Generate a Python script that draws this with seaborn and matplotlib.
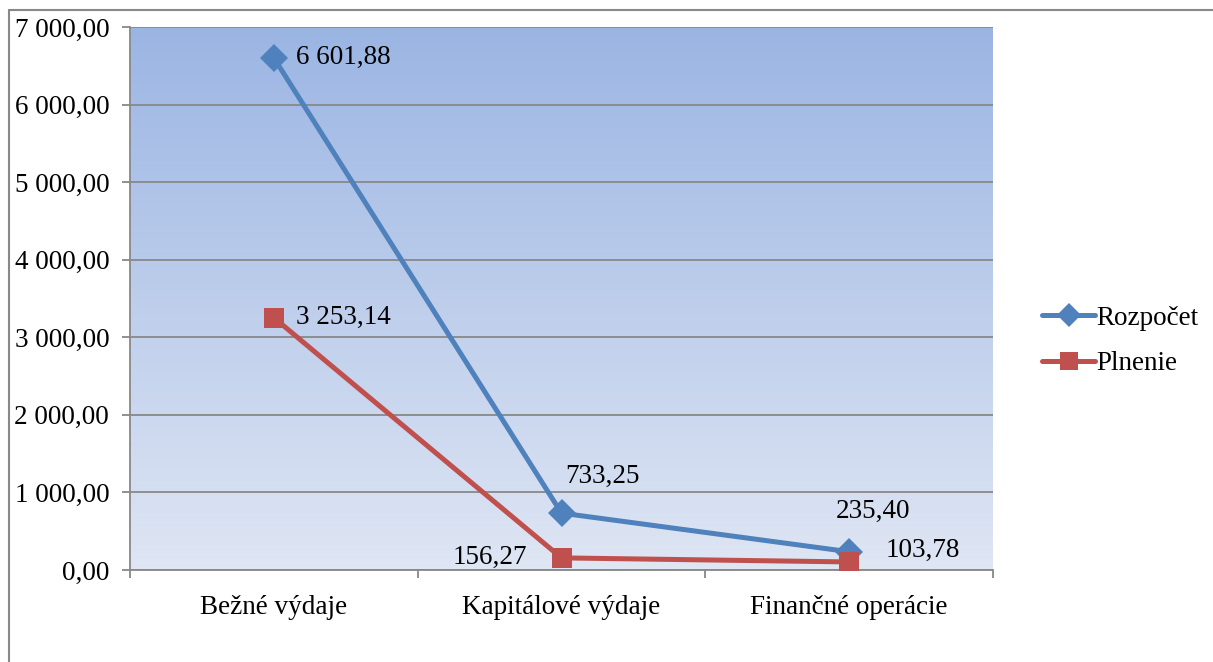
import numpy as np
import pandas as pd
import seaborn as sns
import matplotlib.pyplot as plt
from matplotlib.lines import Line2D
from matplotlib.ticker import FuncFormatter

# Data
categories = ['Bežné výdaje', 'Kapitálové výdaje', 'Finančné operácie']
rozpocet = [6601.88, 733.25, 235.40]
plnenie = [3253.14, 156.27, 103.78]
series_names = ['Rozpočet', 'Plnenie']
y_ticks = [0, 1000, 2000, 3000, 4000, 5000, 6000, 7000]

df = pd.DataFrame({
    'kategoria': categories * 2,
    'hodnota': rozpocet + plnenie,
    'seria': [series_names[0]] * 3 + [series_names[1]] * 3,
})
df['x'] = df['kategoria'].map({c: i for i, c in enumerate(categories)})

def sk_fmt(v, pos=None):
    s = f'{v:,.2f}'
    return s.replace(',', ' ').replace('.', ',')

sns.set_theme(style='white')
plt.rcParams['font.family'] = ['Liberation Serif', 'DejaVu Serif']
plt.rcParams['text.color'] = 'black'
FS = 19.5

fig = plt.figure(figsize=(12.13, 6.62), dpi=100)
ax = fig.add_axes([130 / 1213, 92 / 662, 863 / 1213, 543 / 662])

# gradient background of the plot area
grad = np.linspace(0, 1, 256).reshape(-1, 1)
top = np.array([0x9B, 0xB5, 0xE3]) / 255
bot = np.array([0xDF, 0xE6, 0xF4]) / 255
img = top * (1 - grad)[..., None] + bot * grad[..., None]
ax.imshow(img, extent=[0, 1, 0, 1], transform=ax.transAxes, aspect='auto', zorder=0)

palette = {'Rozpočet': '#4F81BD', 'Plnenie': '#C0504D'}
sns.lineplot(data=df, x='x', y='hodnota', hue='seria', style='seria',
             markers={'Rozpočet': 'D', 'Plnenie': 's'}, dashes=False,
             palette=palette, linewidth=3.6, markersize=14,
             markeredgewidth=0, ax=ax, legend=False, zorder=3)

ax.set_xlim(-0.5, 2.5)
ax.set_ylim(0, 7000)
ax.set_yticks(y_ticks)
ax.yaxis.set_major_formatter(FuncFormatter(sk_fmt))
ax.set_xticks([0, 1, 2])
ax.set_xticklabels(categories)
ax.set_xticks([-0.5, 0.5, 1.5, 2.5], minor=True)
ax.set_xlabel('')
ax.set_ylabel('')
ax.grid(axis='y', color='#888888', linewidth=1.3, zorder=1)
ax.set_axisbelow(True)
for side in ['top', 'right']:
    ax.spines[side].set_visible(False)
for side in ['left', 'bottom']:
    ax.spines[side].set_color('#888888')
    ax.spines[side].set_linewidth(1.3)
ax.tick_params(axis='y', which='major', length=6, width=1.3, color='#888888',
               labelsize=FS, labelcolor='black', pad=9, left=True)
ax.tick_params(axis='x', which='major', length=0, labelsize=FS, labelcolor='black', pad=18)
ax.tick_params(axis='x', which='minor', length=6, width=1.3, color='#888888',
               bottom=True)

# data labels
offsets_r = [(22, 0, 'left', 'center'), (4, 24, 'left', 'bottom'), (24, 28, 'center', 'bottom')]
offsets_p = [(22, 0, 'left', 'center'), (-34, 0, 'right', 'center'), (36, 12, 'left', 'center')]
for i, v in enumerate(rozpocet):
    dx, dy, ha, va = offsets_r[i]
    ax.annotate(sk_fmt(v), (i, v), xytext=(dx, dy), textcoords='offset pixels',
                ha=ha, va=va, fontsize=FS, color='black', zorder=5)
for i, v in enumerate(plnenie):
    dx, dy, ha, va = offsets_p[i]
    ax.annotate(sk_fmt(v), (i, v), xytext=(dx, dy), textcoords='offset pixels',
                ha=ha, va=va, fontsize=FS, color='black', zorder=5)

# legend
handles = [Line2D([], [], color=palette['Rozpočet'], marker='D', lw=3.6, ms=12, mew=0),
           Line2D([], [], color=palette['Plnenie'], marker='s', lw=3.6, ms=13, mew=0)]
fig.legend(handles, series_names, loc='center left', bbox_to_anchor=(1018 / 1213, 1 - 341 / 662),
           frameon=False, fontsize=FS, handlelength=1.95, handletextpad=0.05,
           labelspacing=0.75)

# outer chart border
fig.add_artist(Line2D([9 / 1213, 9 / 1213], [0, 1 - 10 / 662], color='#888888', lw=1.5,
                      transform=fig.transFigure))
fig.add_artist(Line2D([9 / 1213, 1], [1 - 10 / 662, 1 - 10 / 662], color='#888888', lw=1.5,
                      transform=fig.transFigure))

plt.savefig('out.png', dpi=100)
